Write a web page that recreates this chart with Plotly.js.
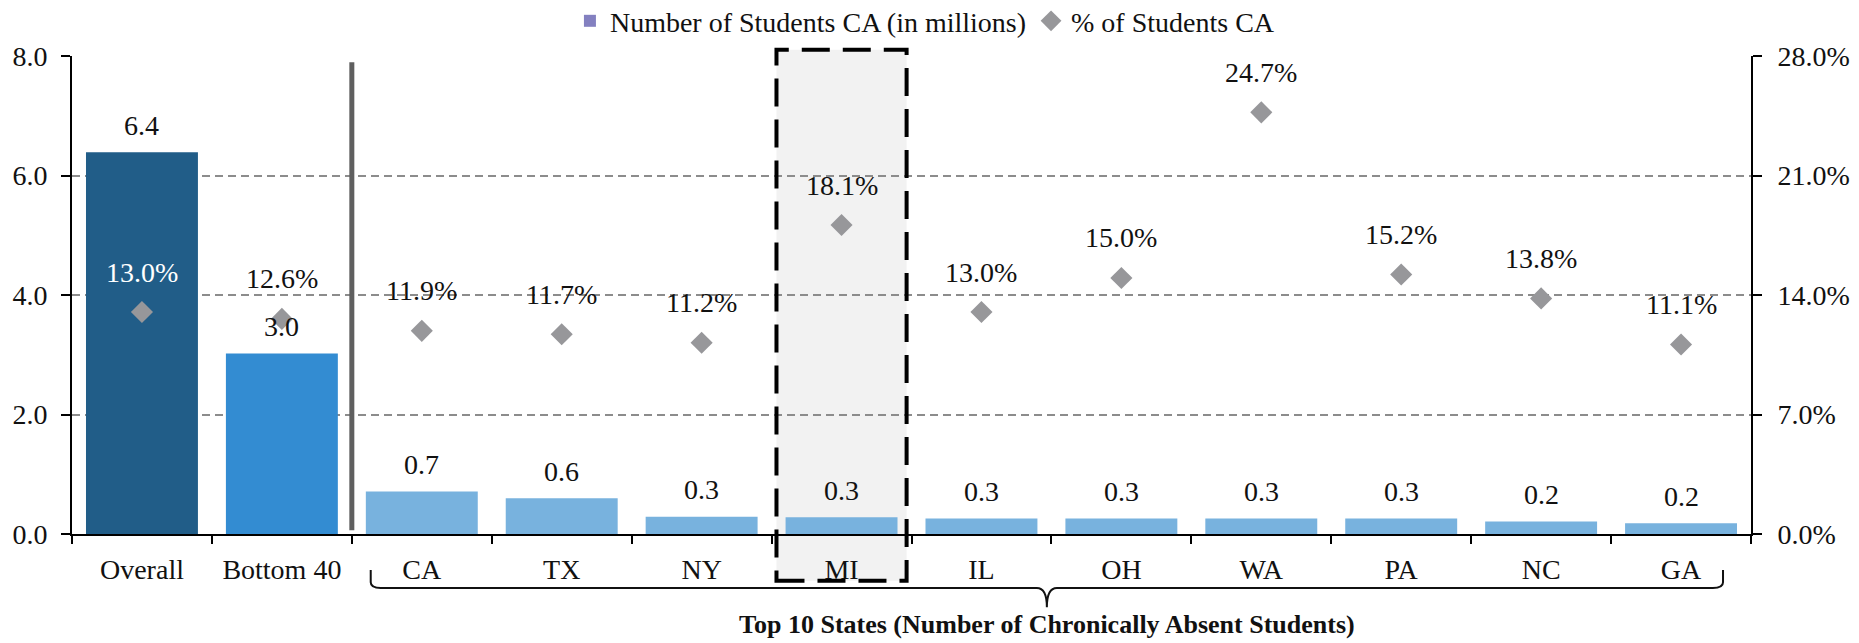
<!DOCTYPE html>
<html>
<head>
<meta charset="utf-8">
<script src="https://cdn.plot.ly/plotly-3.0.1.min.js"></script>
<style>
  html, body { margin: 0; padding: 0; background: #ffffff; }
  #chart { width: 1859px; height: 643px; }
</style>
</head>
<body>
<div id="chart"></div>
<script>
// ---- Data ----
const categories = ['Overall', 'Bottom 40', 'CA', 'TX', 'NY', 'MI', 'IL', 'OH', 'WA', 'PA', 'NC', 'GA'];
const studentsCA = [6.39, 3.02, 0.71, 0.60, 0.29, 0.28, 0.26, 0.26, 0.26, 0.26, 0.21, 0.18]; // millions
const pctCA = [13.0, 12.6, 11.9, 11.7, 11.2, 18.1, 13.0, 15.0, 24.7, 15.2, 13.8, 11.1];      // percent
const leftTicks = [0, 2, 4, 6, 8];
const rightTicks = [0, 7, 14, 21, 28];
const highlightState = 'MI';
const groupTitle = 'Top 10 States (Number of Chronically Absent Students)';
const barName = 'Number of Students CA (in millions)';
const pctName = '% of Students CA';

// ---- Styles ----
const FONT = "'Liberation Serif', 'Times New Roman', serif";
const FS = 28;
const barColors = categories.map((c, i) => i === 0 ? '#215D88' : (i === 1 ? '#338CD2' : '#78B2DE'));
const diamondColor = '#97979A';

const traces = [
  {
    type: 'bar', x: categories, y: studentsCA, yaxis: 'y',
    marker: { color: barColors }, width: 0.8, showlegend: false,
    hoverinfo: 'x+y'
  },
  {
    type: 'bar', x: [null], y: [null], yaxis: 'y', name: barName,
    marker: { color: '#8380C0' }, showlegend: true
  },
  {
    type: 'scatter', mode: 'markers', x: categories, y: pctCA, yaxis: 'y2', name: pctName,
    marker: { symbol: 'diamond', size: 17, color: diamondColor }
  }
];

const annotations = [];
categories.forEach((c, i) => {
  annotations.push({
    x: c, y: studentsCA[i], xref: 'x', yref: 'y', yshift: 27,
    text: studentsCA[i].toFixed(1), showarrow: false,
    font: { family: FONT, size: FS, color: '#111111' }
  });
  annotations.push({
    x: c, y: pctCA[i], xref: 'x', yref: 'y2', yshift: 40,
    text: pctCA[i].toFixed(1) + '%', showarrow: false,
    font: { family: FONT, size: FS, color: i === 0 ? '#ffffff' : '#111111' }
  });
});

// group title under the brace
const nCat = categories.length;
const idxFirstState = 2, idxLastState = nCat - 1;
const px = (c) => (c + 0.5) / nCat;   // category index -> paper x
const braceL = px(idxFirstState - 0.365), braceR = px(idxLastState + 0.3);
const braceC = (braceL + braceR) / 2;
annotations.push({
  x: braceC, y: -0.19, xref: 'paper', yref: 'paper', yanchor: 'middle',
  text: '<b>' + groupTitle + '</b>', showarrow: false,
  font: { family: FONT, size: 26, color: '#111111' }
});

const yEnd = -0.0753, yH = -0.113, yTip = -0.153, dx = 0.006;
const bracePath = `M ${braceL},${yEnd} L ${braceL},${yH + 0.012} Q ${braceL},${yH} ${braceL + dx},${yH} ` +
  `L ${braceC - dx},${yH} Q ${braceC},${yH} ${braceC},${yTip} Q ${braceC},${yH} ${braceC + dx},${yH} ` +
  `L ${braceR - dx},${yH} Q ${braceR},${yH} ${braceR},${yH + 0.012} L ${braceR},${yEnd}`;

const hi = categories.indexOf(highlightState);
const shapes = [
  { type: 'rect', xref: 'x', yref: 'paper', x0: hi - 0.465, x1: hi + 0.465, y0: -0.098, y1: 1.013,
    fillcolor: '#F2F2F2', line: { width: 0 }, layer: 'below' },
  { type: 'rect', xref: 'x', yref: 'paper', x0: hi - 0.465, x1: hi + 0.465, y0: -0.098, y1: 1.013,
    fillcolor: 'rgba(0,0,0,0)', line: { color: '#000000', width: 4, dash: '28px,13px' }, layer: 'above' },
  { type: 'line', xref: 'x', yref: 'paper', x0: 1.5, x1: 1.5, y0: 0.008, y1: 0.987,
    line: { color: '#5F5F5F', width: 5 }, layer: 'above' },
  { type: 'path', xref: 'paper', yref: 'paper', path: bracePath,
    line: { color: '#111111', width: 2 }, layer: 'above' }
];

const layout = {
  width: 1859, height: 643,
  margin: { l: 72, r: 108, t: 56, b: 109, pad: 0, autoexpand: false },
  paper_bgcolor: '#ffffff', plot_bgcolor: 'rgba(0,0,0,0)',
  font: { family: FONT, size: FS, color: '#111111' },
  barmode: 'overlay', bargap: 0.2,
  showlegend: true,
  legend: {
    orientation: 'h', x: 0.508, xanchor: 'center', y: 1.073, yanchor: 'middle',
    font: { family: FONT, size: FS, color: '#111111' }, itemwidth: 30,
    bgcolor: 'rgba(0,0,0,0)'
  },
  xaxis: {
    type: 'category', categoryorder: 'array', categoryarray: categories,
    range: [-0.5, nCat - 0.5],
    showline: true, linecolor: '#000000', linewidth: 2,
    ticks: 'outside', tickson: 'boundaries', ticklen: 8, tickwidth: 2, tickcolor: '#000000',
    ticklabelstandoff: 9,
    showgrid: false, zeroline: false, automargin: false,
    tickfont: { family: FONT, size: FS, color: '#111111' }
  },
  yaxis: {
    range: [0, 8], tickmode: 'array', tickvals: leftTicks, ticktext: leftTicks.map(v => v.toFixed(1)),
    showline: true, linecolor: '#000000', linewidth: 2,
    ticks: 'outside', ticklen: 9, tickwidth: 2, tickcolor: '#000000',
    ticklabelstandoff: 8,
    showgrid: true, gridcolor: '#8C8C8C', gridwidth: 2, griddash: '8px,5px',
    zeroline: false, automargin: false,
    tickfont: { family: FONT, size: FS, color: '#111111' }
  },
  yaxis2: {
    overlaying: 'y', side: 'right',
    range: [0, 28], tickmode: 'array', tickvals: rightTicks, ticktext: rightTicks.map(v => v.toFixed(1) + '%'),
    showline: true, linecolor: '#000000', linewidth: 2,
    ticks: 'outside', ticklen: 9, tickwidth: 2, tickcolor: '#000000',
    ticklabelstandoff: 10,
    showgrid: false, zeroline: false, automargin: false,
    tickfont: { family: FONT, size: FS, color: '#111111' }
  },
  annotations: annotations,
  shapes: shapes
};

Plotly.newPlot('chart', traces, layout, { displayModeBar: false, staticPlot: true });
</script>
</body>
</html>
